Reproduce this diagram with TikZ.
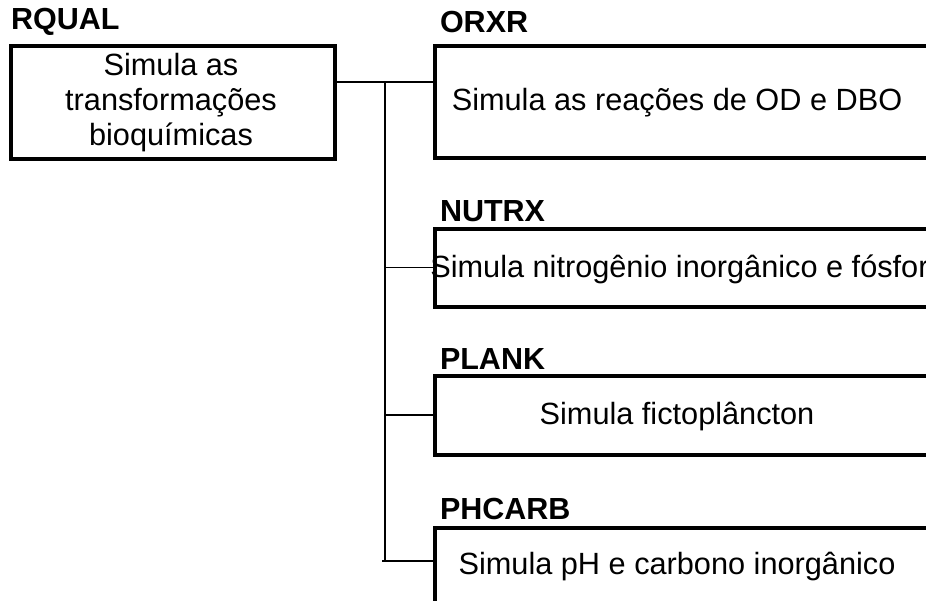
\documentclass[tikz,border=0pt]{standalone}
\usepackage{fontspec}
\setmainfont{Liberation Sans}
\begin{document}
\begin{tikzpicture}[x=1pt,y=-1pt,
  every node/.style={inner sep=0pt, outer sep=0pt},
  modbox/.style={draw, line width=4pt, rectangle, anchor=north west},
  modtext/.style={font=\fontsize{30.7}{35}\selectfont, align=center},
  modname/.style={font=\fontsize{30.5}{35}\selectfont\bfseries, anchor=west},
  link/.style={line width=1.6pt}]
\useasboundingbox (0,0) rectangle (926,600);
\clip (0,0) rectangle (926,600);
\fill[white] (0,0) rectangle (926,600);

% main routine
\node[modbox, minimum width=324pt, minimum height=113pt] (rqual) at (10.5,45.5) {};
\node[modtext] (rqualtxt) at (171,103) {Simula as\\transformações\\bioquímicas};
\node[modname] (rqualname) at (11,22) {RQUAL};

% subroutines (boxes run past the right edge)
\node[modbox, minimum width=540pt, minimum height=112.5pt] (orxr) at (435,45.5) {};
\node[modtext] (orxrtxt) at (677,103) {Simula as reações de OD e DBO};
\node[modname] (orxrname) at (440,22) {ORXR};

\node[modbox, minimum width=540pt, minimum height=78pt] (nutrx) at (435,228.5) {};
\node[modtext] (nutrxtxt) at (688,269) {Simula nitrogênio inorgânico e fósforo};
\node[modname] (nutrxname) at (440,211) {NUTRX};

\node[modbox, minimum width=540pt, minimum height=78.5pt] (plank) at (435,376) {};
\node[modtext] (planktxt) at (677,417) {Simula fictoplâncton};
\node[modname] (plankname) at (440,359) {PLANK};

\node[modbox, minimum width=540pt, minimum height=79pt] (phcarb) at (435,527.5) {};
\node[modtext] (phcarbtxt) at (677,567) {Simula pH e carbono inorgânico};
\node[modname] (phcarbname) at (440,509) {PHCARB};

% connectors
\coordinate (trunktop) at (385,82);
\coordinate (trunkbot) at (385,561);
\coordinate (trunkstub) at (382,561);
\draw[link] (rqual.east |- trunktop) -- (orxr.west |- trunktop);
\draw[link] (trunktop) -- (trunkbot);
\draw[link] (trunktop |- nutrx.west) -- (nutrx.west);
\draw[link] (trunktop |- plank.west) -- (plank.west);
\draw[link] (trunkstub) -- (phcarb.west |- trunkstub);
\end{tikzpicture}
\end{document}
